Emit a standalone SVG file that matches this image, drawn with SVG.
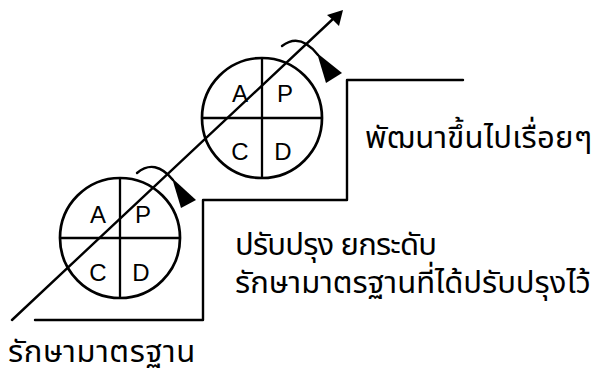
<svg xmlns="http://www.w3.org/2000/svg" width="600" height="375" viewBox="0 0 600 375">
<defs>
<style>
.ln{fill:none;stroke:#000;stroke-width:2.4;stroke-linecap:round;stroke-linejoin:round}
.cir{fill:none;stroke:#000;stroke-width:2.7}
.div{stroke:#000;stroke-width:2.3}
.lt{font-family:"Liberation Sans",Arial,sans-serif;font-size:24px;fill:#000;text-anchor:middle}
.th{font-family:"Noto Sans Thai","Noto Sans","DejaVu Sans",sans-serif;font-size:31px;fill:#000}
.fill{fill:#000;stroke:none}
</style>
</defs>
<rect width="600" height="375" fill="#fff"/>
<g id="steps">
<path class="ln" d="M35,320 H203 V200 H347 V80 H463"/>
</g>
<g id="pdca-lower">
<circle class="cir" cx="120" cy="238" r="60"/>
<line class="div" x1="120" y1="178" x2="120" y2="298"/>
<line class="div" x1="60" y1="238" x2="180" y2="238"/>
<text class="lt" x="98" y="223">A</text>
<text class="lt" x="143" y="223">P</text>
<text class="lt" x="98" y="281">C</text>
<text class="lt" x="141" y="281">D</text>
</g>
<g id="pdca-upper">
<circle class="cir" cx="262" cy="118" r="60"/>
<line class="div" x1="262" y1="58" x2="262" y2="178"/>
<line class="div" x1="202" y1="118" x2="322" y2="118"/>
<text class="lt" x="240" y="102">A</text>
<text class="lt" x="285" y="102">P</text>
<text class="lt" x="240" y="160">C</text>
<text class="lt" x="283" y="160">D</text>
</g>
<g id="connectors">
<line class="ln" x1="12" y1="320" x2="334" y2="18"/>
<path class="fill" d="M343,10 L327,15 L333,20 L339,26 Z"/>
<path class="ln" d="M137,173 Q155,158 173,180"/>
<path class="fill" d="M172,178 L196,200 L181,208 Z"/>
<path class="ln" d="M282,46 Q300,32 318,55"/>
<path class="fill" d="M317,53 L342,73 L326,83 Z"/>
</g>
<g id="labels">
<text class="th" x="365" y="148" letter-spacing="0.3">พัฒนาขึ้นไปเรื่อยๆ</text>
<text class="th" x="235" y="255" letter-spacing="-0.8">ปรับปรุง ยกระดับ</text>
<text class="th" x="235" y="293">รักษามาตรฐานที่ได้ปรับปรุงไว้</text>
<text class="th" x="8" y="362" letter-spacing="0.6">รักษามาตรฐาน</text>
</g>
</svg>
